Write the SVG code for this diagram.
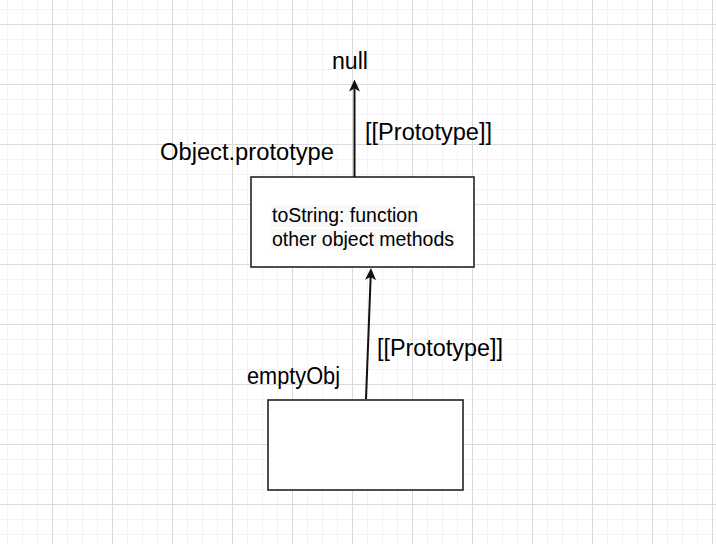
<svg xmlns="http://www.w3.org/2000/svg" width="716" height="544" viewBox="0 0 716 544">
  <defs>
    <pattern id="minor" patternUnits="userSpaceOnUse" x="7" y="9" width="15" height="15">
      <path d="M0.5 0V15M0 0.5H15" stroke="#f3f3f3" stroke-width="1" fill="none"/>
    </pattern>
    <pattern id="major" patternUnits="userSpaceOnUse" x="52" y="24" width="60" height="60">
      <path d="M0.5 0V60M0 0.5H60" stroke="#dadada" stroke-width="1" fill="none"/>
    </pattern>
    <marker id="arrow" markerUnits="userSpaceOnUse" viewBox="-5 -7 16 14" markerWidth="16" markerHeight="14" refX="0" refY="0" orient="auto">
      <path d="M9 0L-3 -5.5L0 0L-3 5.5Z" fill="#111"/>
    </marker>
    <style>
      .box { fill: #fff; stroke: #222; stroke-width: 1.6; }
      .lbl { font-family: "Liberation Sans", Arial, sans-serif; font-size: 23px; fill: #000; }
      .inner { font-family: "Liberation Sans", Arial, sans-serif; font-size: 19.5px; fill: #000; }
      .edge { fill: none; stroke: #111; stroke-width: 2; }
    </style>
  </defs>
  <rect x="0" y="0" width="716" height="544" fill="#fff"/>
  <rect x="0" y="0" width="716" height="544" fill="url(#minor)"/>
  <rect x="0" y="0" width="716" height="544" fill="url(#major)"/>

  <g id="null-node">
    <text class="lbl" x="332" y="69" textLength="36" lengthAdjust="spacingAndGlyphs">null</text>
  </g>

  <g id="object-prototype">
    <text class="lbl" x="160" y="160" textLength="174" lengthAdjust="spacingAndGlyphs">Object.prototype</text>
    <rect class="box" x="251" y="177" width="223" height="90"/>
    <rect x="271" y="205" width="148" height="22" fill="#f9f9f9"/>
    <rect x="271" y="229" width="184" height="21" fill="#f9f9f9"/>
    <text class="inner" x="272" y="222" textLength="146" lengthAdjust="spacingAndGlyphs">toString: function</text>
    <text class="inner" x="272" y="246" textLength="182" lengthAdjust="spacingAndGlyphs">other object methods</text>
  </g>

  <g id="emptyObj">
    <text class="lbl" x="247" y="384" textLength="93" lengthAdjust="spacingAndGlyphs">emptyObj</text>
    <rect class="box" x="268" y="400" width="195" height="90"/>
  </g>

  <g id="connectors">
    <path class="edge" d="M354.5 177V88.5" marker-end="url(#arrow)"/>
    <text class="lbl" x="365" y="140" textLength="127" lengthAdjust="spacingAndGlyphs">[[Prototype]]</text>
    <path class="edge" d="M366 399L370.65 277" marker-end="url(#arrow)"/>
    <text class="lbl" x="377" y="356" textLength="126" lengthAdjust="spacingAndGlyphs">[[Prototype]]</text>
  </g>
</svg>
